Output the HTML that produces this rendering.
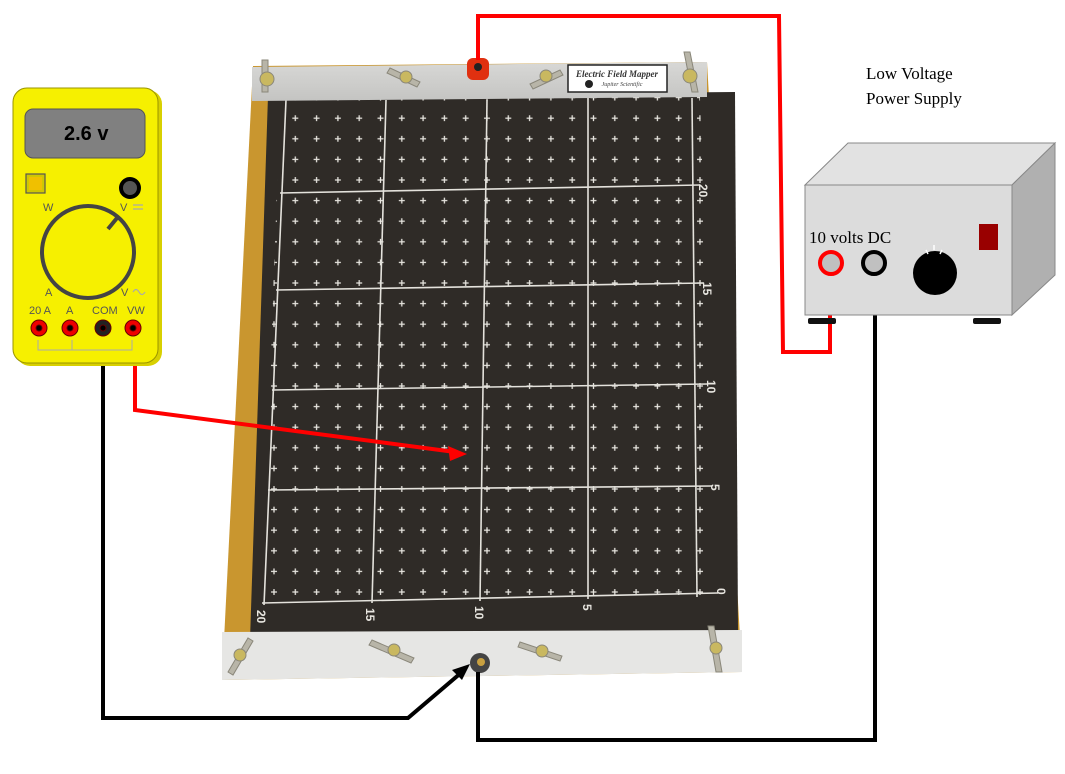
<!DOCTYPE html>
<html><head><meta charset="utf-8"><style>
html,body{margin:0;padding:0;background:#fff}
svg{display:block}
</style></head><body>
<svg width="1065" height="774" viewBox="0 0 1065 774" xmlns="http://www.w3.org/2000/svg" font-family="Liberation Sans, sans-serif">
<defs>
<pattern id="pl" patternUnits="userSpaceOnUse" x="487" y="386" width="21.3" height="20.6">
<path d="M0 -3V3M-3 0H3M21.3 -3V3M18.3 0H24.3M0 17.6V23.6M-3 20.6H3M21.3 17.6V23.6M18.3 20.6H24.3" stroke="#e8e6e0" stroke-width="1.3"/>
</pattern>
<clipPath id="gc"><polygon points="280,98 700,96 716,598 262,607"/></clipPath>
<linearGradient id="al" x1="0" y1="0" x2="0" y2="1"><stop offset="0" stop-color="#d8d8d6"/><stop offset="1" stop-color="#c4c4c2"/></linearGradient>
</defs>

<!-- board -->
<polygon points="253,66 707,62 742,672 222,680" fill="#c9962f"/>
<polygon points="268,96 735,92 738,632 250,640" fill="#2f2b27"/>
<g clip-path="url(#gc)">
<polygon points="280,98 700,96 716,598 262,607" fill="url(#pl)"/>
</g>
<!-- grid lines -->
<g stroke="#e4e2dc" stroke-width="1.6" fill="none">
<line x1="286" y1="100" x2="264" y2="605"/>
<line x1="386" y1="100" x2="372" y2="603"/>
<line x1="487" y1="100" x2="480" y2="601"/>
<line x1="588" y1="98" x2="588" y2="599"/>
<line x1="692" y1="98" x2="697" y2="597"/>
<line x1="280" y1="193" x2="700" y2="185"/>
<line x1="276" y1="290" x2="704" y2="283"/>
<line x1="272" y1="390" x2="708" y2="384"/>
<line x1="268" y1="490" x2="712" y2="486"/>
<line x1="262" y1="603" x2="718" y2="593"/>
</g>
<g fill="#e8e6e0" font-size="12" font-weight="bold">
<text transform="translate(699,184) rotate(90)">20</text>
<text transform="translate(703,282) rotate(90)">15</text>
<text transform="translate(707,380) rotate(90)">10</text>
<text transform="translate(711,484) rotate(90)">5</text>
<text transform="translate(717,588) rotate(90)">0</text>
<text transform="translate(257,610) rotate(90)">20</text>
<text transform="translate(366,608) rotate(90)">15</text>
<text transform="translate(475,606) rotate(90)">10</text>
<text transform="translate(583,604) rotate(90)">5</text>
</g>
<!-- top bar -->
<polygon points="252,67 707,62 707,97 252,101" fill="url(#al)"/>
<rect x="568" y="65" width="99" height="27" fill="#fff" stroke="#222" stroke-width="1.5"/>
<text x="617" y="77" font-family="Liberation Serif, serif" font-style="italic" font-weight="bold" font-size="9" text-anchor="middle" fill="#333">Electric Field Mapper</text>
<text x="622" y="86" font-family="Liberation Serif, serif" font-style="italic" font-size="6" text-anchor="middle" fill="#444">Jupiter Scientific</text>
<circle cx="589" cy="84" r="4" fill="#222"/>
<!-- bottom bar -->
<polygon points="222,632 742,630 742,672 222,680" fill="#e6e6e4"/>
<!-- wing nuts -->
<g fill="#b8b5a8" stroke="#8a877a" stroke-width="1">
<path d="M262,60 l6,0 l0,32 l-6,0z"/><circle cx="267" cy="79" r="7" fill="#c9b860"/>
<path d="M390,68 l30,14 l-3,5 l-30,-14z"/><circle cx="406" cy="77" r="6" fill="#c9b860"/>
<path d="M530,84 l30,-14 l3,5 l-30,14z"/><circle cx="546" cy="76" r="6" fill="#c9b860"/>
<path d="M684,52 l6,0 l8,40 l-6,0z"/><circle cx="690" cy="76" r="7" fill="#c9b860"/>
<path d="M228,672 l20,-34 l5,3 l-20,34z"/><circle cx="240" cy="655" r="6" fill="#c9b860"/>
<path d="M372,640 l42,18 l-3,5 l-42,-18z"/><circle cx="394" cy="650" r="6" fill="#c9b860"/>
<path d="M520,642 l42,14 l-2,5 l-42,-14z"/><circle cx="542" cy="651" r="6" fill="#c9b860"/>
<path d="M708,626 l6,0 l8,46 l-6,0z"/><circle cx="716" cy="648" r="6" fill="#c9b860"/>
</g>
<!-- terminals -->
<rect x="467" y="58" width="22" height="22" rx="6" fill="#e03010"/>
<circle cx="478" cy="67" r="4" fill="#222"/>
<circle cx="480" cy="663" r="10" fill="#444"/>
<circle cx="481" cy="662" r="4" fill="#c8a040"/>

<!-- wires -->
<g fill="none" stroke-width="4" stroke-linejoin="miter">
<polyline points="478,60 478,16 779,16 783,352 830,352 830,268" stroke="#f00"/>
<polyline points="103,330 103,718 408,718 462,672" stroke="#000"/>
<polyline points="478,672 478,740 875,740 875,270" stroke="#000"/>
<polyline points="135,330 135,410 455,452" stroke="#f00"/>
</g>
<polygon points="467,454 448,446 450,461" fill="#f00"/>
<polygon points="470,664 452,670 462,680" fill="#000"/>

<!-- multimeter -->
<rect x="16" y="90" width="146" height="276" rx="14" fill="#d8d000"/>
<rect x="13" y="88" width="145" height="275" rx="14" fill="#f6f000" stroke="#9a9400" stroke-width="1"/>
<rect x="25" y="109" width="120" height="49" rx="8" fill="#808080" stroke="#555"/>
<text x="64" y="140" font-size="20" font-weight="bold" fill="#000">2.6 v</text>
<rect x="26" y="174" width="19" height="19" fill="#d0c800" stroke="#555" stroke-width="1.2"/>
<rect x="29" y="177" width="13" height="13" fill="#f0c000"/>
<circle cx="130" cy="188" r="11" fill="#000"/><circle cx="130" cy="188" r="7" fill="#555"/>
<circle cx="88" cy="252" r="46" fill="none" stroke="#444" stroke-width="4"/>
<line x1="108" y1="229" x2="117" y2="218" stroke="#444" stroke-width="4"/>
<g font-size="11" fill="#555">
<text x="43" y="211">W</text><text x="120" y="211">V</text>
<text x="45" y="296">A</text><text x="121" y="296">V</text>
<text x="29" y="314">20 A</text><text x="66" y="314">A</text>
<text x="92" y="314">COM</text><text x="127" y="314">VW</text>
</g>
<path d="M133,205h10M133,209h10" stroke="#aaa" stroke-width="1.2"/>
<path d="M133,292 q3,-5 6,0 t6,0" stroke="#aaa" stroke-width="1.2" fill="none"/>
<path d="M38,340v10h34v-10M72,350h60v-10" stroke="#aaa" stroke-width="1" fill="none"/>
<g stroke="#600" stroke-width="1">
<circle cx="39" cy="328" r="8" fill="#e00"/><circle cx="39" cy="328" r="3" fill="#000"/>
<circle cx="70" cy="328" r="8" fill="#e00"/><circle cx="70" cy="328" r="3" fill="#000"/>
<circle cx="103" cy="328" r="8" fill="#222"/><circle cx="103" cy="328" r="3" fill="#000"/>
<circle cx="133" cy="328" r="8" fill="#e00"/><circle cx="133" cy="328" r="3" fill="#000"/>
</g>

<!-- power supply -->
<polygon points="805,185 848,143 1055,143 1012,185" fill="#e2e2e2" stroke="#888"/>
<polygon points="1012,185 1055,143 1055,275 1012,315" fill="#b0b0b0" stroke="#888"/>
<rect x="805" y="185" width="207" height="130" fill="#dcdcdc" stroke="#888"/>
<rect x="808" y="318" width="28" height="6" rx="2" fill="#111"/>
<rect x="973" y="318" width="28" height="6" rx="2" fill="#111"/>
<text x="809" y="243" font-family="Liberation Serif, serif" font-size="17" fill="#000">10 volts DC</text>
<circle cx="831" cy="263" r="11" fill="#c0c0c0" stroke="#f00" stroke-width="4"/>
<circle cx="874" cy="263" r="11" fill="#c0c0c0" stroke="#000" stroke-width="4"/>
<circle cx="935" cy="273" r="22" fill="#000"/>
<path d="M934,245v5M926,250l2,4M942,250l-2,4" stroke="#fff" stroke-width="1.5"/>
<rect x="979" y="224" width="19" height="26" fill="#990000"/>
<text x="866" y="79" font-family="Liberation Serif, serif" font-size="17">Low Voltage</text>
<text x="866" y="104" font-family="Liberation Serif, serif" font-size="17">Power Supply</text>
</svg>
</body></html>
